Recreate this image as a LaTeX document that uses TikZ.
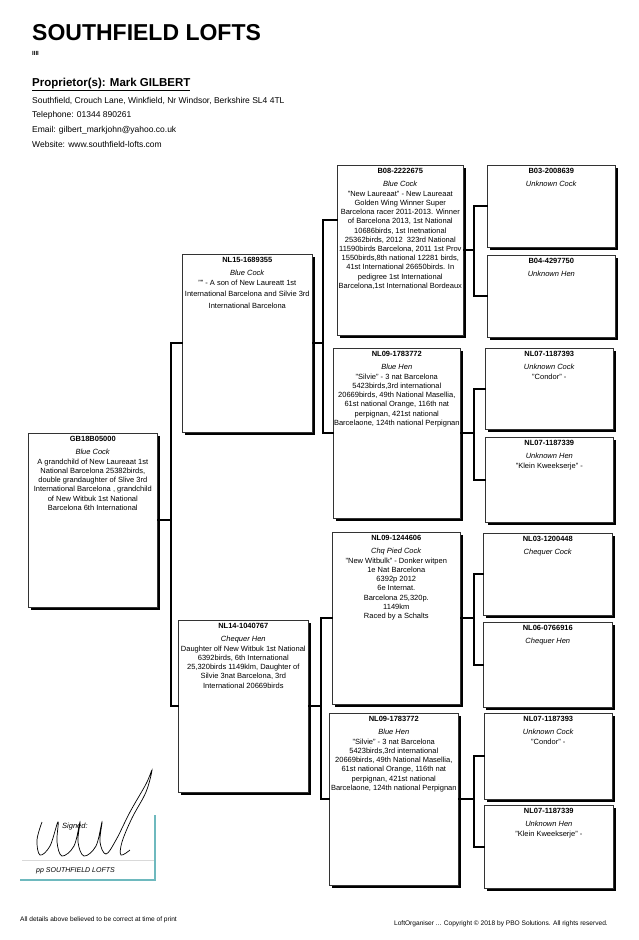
\documentclass[tikz,border=0pt]{standalone}
\usepackage{fontspec}
\setmainfont{Liberation Sans}
\usetikzlibrary{shadows}
\definecolor{sigline}{RGB}{110,185,190}
\tikzset{%
  birdnode/.style = {draw=black!80, line width=0.6pt, fill=white,%
                     inner sep=0pt, anchor=north west,%
                     drop shadow={shadow xshift=2.5pt, shadow yshift=-2.5pt,%
                                  opacity=1, fill=black}},%
  link/.style     = {line width=2.2pt, line cap=rect},%
  head/.style     = {anchor=base west, inner sep=0pt}%
}
% ring, colour and notes of one bird, top aligned in its box
\newcommand{\pigeon}[5]{\parbox[t][#2][t]{#1}{\centering
    \fontsize{7.5pt}{9.2pt}\selectfont
    \rule{0pt}{8.5pt}\textbf{#3}\\[3.5pt]\textit{#4}\\[0.5pt]#5}}

\begin{document}
\begin{tikzpicture}[x=1pt,y=-1pt]
  \useasboundingbox (0,0) rectangle (639,940);
  % heading
  \node[head] (title) at (32,40) {\fontsize{23pt}{23pt}\selectfont\bfseries SOUTHFIELD LOFTS};
  \node[head] (marks) at (32,55) {\fontsize{6pt}{6pt}\selectfont\bfseries IIII};
  \node[head] (owner) at (32,86) {\fontsize{11.5pt}{12pt}\selectfont\bfseries\underline{Proprietor(s): Mark GILBERT}};
  \node[head] (addr)  at (32,103) {\fontsize{8.5pt}{9pt}\selectfont Southfield, Crouch Lane, Winkfield, Nr Windsor, Berkshire SL4 4TL};
  \node[head] (phone) at (32,117) {\fontsize{8.5pt}{9pt}\selectfont Telephone: 01344 890261};
  \node[head] (mail)  at (32,132) {\fontsize{8.5pt}{9pt}\selectfont Email: gilbert\_markjohn@yahoo.co.uk};
  \node[head] (web)   at (32,147) {\fontsize{8.5pt}{9pt}\selectfont Website: www.southfield-lofts.com};

  % generation 0 and 1
  \node[birdnode] (g0) at (28,433) {\pigeon{129pt}{174pt}{GB18B05000}{Blue Cock}{%
    A grandchild of New Laureaat 1st\\ National Barcelona 25382birds,\\
    double grandaughter of Slive 3rd\\ International Barcelona , grandchild\\
    of New Witbuk 1st National\\ Barcelona 6th International}};
  \node[birdnode] (sire) at (182,254) {\pigeon{130pt}{178pt}{NL15-1689355}{Blue Cock}{%
    "" - A son of New Laureatt 1st\\[2.5pt] International Barcelona and Silvie 3rd\\[2.5pt]
    International Barcelona}};
  \node[birdnode] (dam) at (178,620) {\pigeon{130pt}{172pt}{NL14-1040767}{Chequer Hen}{%
    Daughter olf New Witbuk 1st National\\ 6392birds, 6th International\\
    25,320birds 1149klm, Daughter of\\ Silvie 3nat Barcelona, 3rd\\
    International 20669birds}};

  % generation 2
  \node[birdnode] (a) at (337,165) {\pigeon{126pt}{170pt}{B08-2222675}{Blue Cock}{%
    "New Laureaat" - New Laureaat\\ Golden Wing Winner Super\\
    Barcelona racer 2011-2013. Winner\\ of Barcelona 2013, 1st National\\
    10686birds, 1st Inetnational\\ 25362birds, 2012 \ 323rd National\\
    11590birds Barcelona, 2011 1st Prov\\ 1550birds,8th national 12281 birds,\\
    41st International 26650birds. In\\ pedigree 1st International\\
    Barcelona,1st International Bordeaux}};
  \node[birdnode] (b) at (333,348) {\pigeon{127pt}{170pt}{NL09-1783772}{Blue Hen}{%
    "Silvie" - 3 nat Barcelona\\ 5423birds,3rd international\\
    20669birds, 49th National Masellia,\\ 61st national Orange, 116th nat\\
    perpignan, 421st national\\ Barcelaone, 124th national Perpignan}};
  \node[birdnode] (c) at (332,532) {\pigeon{128pt}{172pt}{NL09-1244606}{Chq Pied Cock}{%
    "New Witbulk" - Donker witpen\\ 1e Nat Barcelona\\ 6392p 2012\\ 6e Internat.\\
    Barcelona 25,320p.\\ 1149km\\ Raced by a Schalts}};
  \node[birdnode] (d) at (329,713) {\pigeon{129pt}{172pt}{NL09-1783772}{Blue Hen}{%
    "Silvie" - 3 nat Barcelona\\ 5423birds,3rd international\\
    20669birds, 49th National Masellia,\\ 61st national Orange, 116th nat\\
    perpignan, 421st national\\ Barcelaone, 124th national Perpignan}};

  % generation 3
  \node[birdnode] (aa) at (487,165) {\pigeon{128pt}{82pt}{B03-2008639}{Unknown Cock}{}};
  \node[birdnode] (ab) at (487,255) {\pigeon{128pt}{82pt}{B04-4297750}{Unknown Hen}{}};
  \node[birdnode] (ba) at (485,348) {\pigeon{128pt}{81pt}{NL07-1187393}{Unknown Cock}{"Condor" -}};
  \node[birdnode] (bb) at (485,437) {\pigeon{128pt}{85pt}{NL07-1187339}{Unknown Hen}{"Klein Kweekserje" -}};
  \node[birdnode] (ca) at (483,533) {\pigeon{129pt}{82pt}{NL03-1200448}{Chequer Cock}{}};
  \node[birdnode] (cb) at (483,622) {\pigeon{129pt}{85pt}{NL06-0766916}{Chequer Hen}{}};
  \node[birdnode] (da) at (484,713) {\pigeon{128pt}{86pt}{NL07-1187393}{Unknown Cock}{"Condor" -}};
  \node[birdnode] (db) at (484,805) {\pigeon{129pt}{83pt}{NL07-1187339}{Unknown Hen}{"Klein Kweekserje" -}};

  % brackets
  \coordinate (j0) at ([xshift=13pt]g0.east);
  \coordinate (j1) at ([xshift=10pt]sire.east);
  \coordinate (j2) at ([xshift=12pt]dam.east);
  \coordinate (ja) at ([xshift=10pt]a.east);
  \coordinate (jb) at ([xshift=13pt]b.east);
  \coordinate (jc) at ([xshift=13pt]c.east);
  \coordinate (jd) at ([xshift=15pt]d.east);
  \draw[link] (g0.east) -- (j0);
  \draw[link] (sire.west) -| (j0) |- (dam.west);
  \draw[link] (sire.east) -- (j1);
  \draw[link] ([yshift=30pt]a.west) -| (j1) |- (b.west);
  \draw[link] (dam.east) -- (j2);
  \draw[link] (c.west) -| (j2) |- (d.west);
  \draw[link] (a.east) -- (ja);
  \draw[link] (aa.west) -| (ja) |- (ab.west);
  \draw[link] (b.east) -- (jb);
  \draw[link] (ba.west) -| (jb) |- (bb.west);
  \draw[link] (c.east) -- (jc);
  \draw[link] (ca.west) -| (jc) |- (cb.west);
  \draw[link] (d.east) -- (jd);
  \draw[link] (da.west) -| (jd) |- (db.west);

  % signature
  \draw[black!15, line width=0.6pt] (22,860) -- (155,860);
  \draw[sigline, line width=1.2pt] (155,815) -- (155,880) -- (20,880);
  \draw[black, line width=0.7pt] plot[smooth, tension=0.6] coordinates {(42,822) (37,840) (40,855)
    (50,846) (58,822) (57,842) (62,856) (74,846) (80,822) (78,842) (84,856) (96,846)
    (102,822) (100,842) (106,854) (116,840) (130,812) (146,784) (152,770) (146,792)
    (132,818) (122,842) (121,855) (130,850)};
  \node[head] (signed) at (62,828) {\fontsize{7.5pt}{8pt}\selectfont\itshape Signed:};
  \node[head] (pp) at (36,872) {\fontsize{7pt}{8pt}\selectfont\itshape pp SOUTHFIELD LOFTS};

  % footer
  \node[head] (note) at (20,921) {\fontsize{6.6pt}{7pt}\selectfont All details above believed to be correct at time of print};
  \node[anchor=base east, inner sep=0pt] (copy) at (608,925) {\fontsize{6.6pt}{7pt}\selectfont LoftOrganiser ... Copyright \textcopyright{} 2018 by PBO Solutions. All rights reserved.};
\end{tikzpicture}
\end{document}
